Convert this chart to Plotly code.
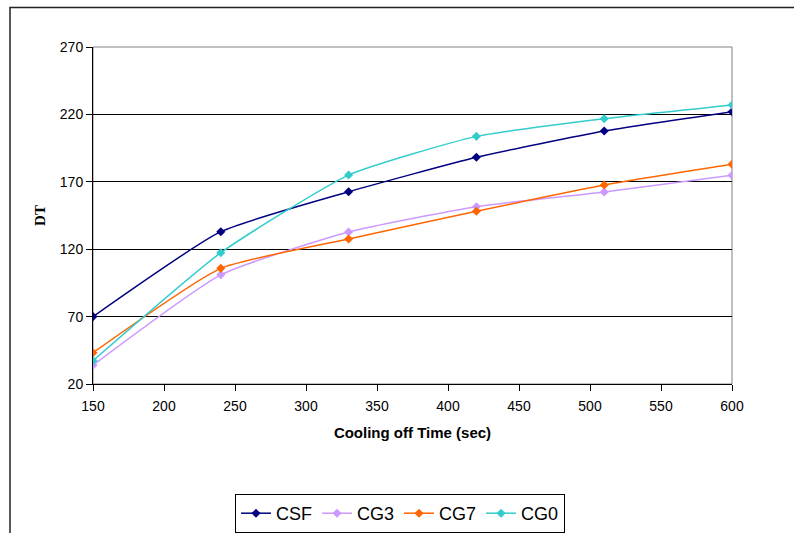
import plotly.graph_objects as go

time_sec = [150, 240, 330, 420, 510, 600]
csf = [70, 133, 162.6, 188.2, 207.7, 222]
cg3 = [34, 101, 132.8, 151.5, 162.4, 174.8]
cg7 = [43.2, 105.8, 127.6, 148.1, 167.6, 183]
cg0 = [37.3, 117.4, 175, 203.7, 216.8, 227]

series = [
    ("CSF", csf, "#000080"),
    ("CG3", cg3, "#CC99FF"),
    ("CG7", cg7, "#FF6600"),
    ("CG0", cg0, "#33CCCC"),
]

x_ticks = list(range(150, 601, 50))
y_ticks = list(range(20, 271, 50))

fig = go.Figure()
for name, vals, col in series:
    fig.add_trace(go.Scatter(
        x=time_sec, y=vals, name=name, mode="lines+markers",
        line=dict(color=col, width=1.5, shape="spline", smoothing=0.5),
        marker=dict(symbol="diamond", size=7, color=col),
    ))

L, R, T, B = 93, 732, 47, 384
W, H = 794, 533
fig.update_layout(
    width=W, height=H,
    margin=dict(l=L, r=W - R, t=T, b=H - B, autoexpand=False),
    paper_bgcolor="white", plot_bgcolor="white",
    font=dict(family="Liberation Sans, Arial", size=14, color="black"),
    showlegend=True,
    legend=dict(
        orientation="h", x=400 / W, xanchor="center", xref="container",
        y=(H - 494) / H, yanchor="top", yref="container",
        bordercolor="black", borderwidth=1,
        font=dict(size=18, family="Liberation Sans, Arial"),
        itemwidth=30, tracegroupgap=0,
    ),
    xaxis=dict(
        range=[150, 600], tickvals=x_ticks, showgrid=False, zeroline=False,
        showline=True, linecolor="black", linewidth=1, automargin=False,
        ticks="outside", ticklen=6, tickcolor="black", ticklabelstandoff=3,
        title=dict(text="<b>Cooling off Time (sec)</b>", font=dict(size=15), standoff=14),
    ),
    yaxis=dict(
        range=[20, 270], tickvals=y_ticks, showgrid=True, gridcolor="black", gridwidth=1,
        zeroline=False, showline=True, linecolor="black", linewidth=1, automargin=False,
        ticks="outside", ticklen=6, tickcolor="black",
        title=dict(text="<b>DT</b>", font=dict(size=15, family="Liberation Serif, Times New Roman"), standoff=10),
    ),
    shapes=[
        dict(type="rect", xref="paper", yref="paper", x0=0, x1=1, y0=0, y1=1,
             line=dict(color="#808080", width=1), layer="below"),
        dict(type="rect", xref="paper", yref="paper",
             x0=(10 - L) / (R - L), x1=(810 - L) / (R - L),
             y0=(B - 560) / (B - T), y1=(B - 7.5) / (B - T),
             line=dict(color="#222222", width=1.5)),
    ],
)

fig.write_html("out.html")
